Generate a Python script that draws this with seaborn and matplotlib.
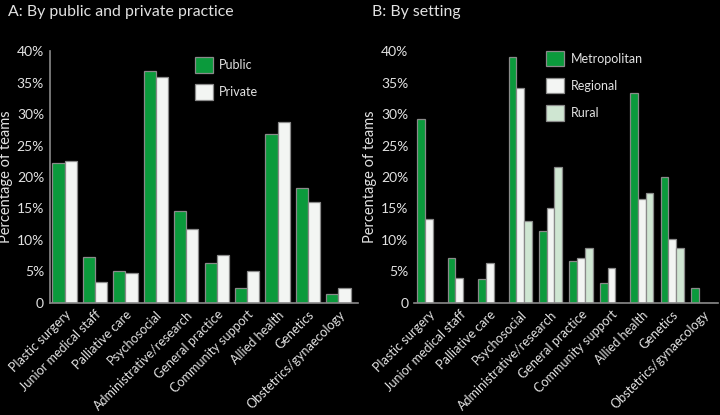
import numpy as np
import pandas as pd
import matplotlib
matplotlib.use("Agg")
import matplotlib.pyplot as plt
import seaborn as sns

# categories shared by both panels
areas = ["Plastic surgery", "Junior medical staff", "Palliative care", "Psychosocial",
         "Administrative/research", "General practice", "Community support",
         "Allied health", "Genetics", "Obstetrics/gynaecology"]

# panel A: public vs private practice (% of teams)
public = [22.2, 7.3, 5.1, 36.9, 14.6, 6.3, 2.4, 26.9, 18.3, 1.5]
private = [22.5, 3.4, 4.7, 35.9, 11.8, 7.6, 5.1, 28.8, 16.0, 2.3]

# panel B: by setting (% of teams)
metropolitan = [29.2, 7.1, 3.8, 39.1, 11.4, 6.6, 3.2, 33.4, 20.0, 2.3]
regional = [13.4, 3.9, 6.3, 34.1, 15.0, 7.1, 5.5, 16.5, 10.2, 0.0]
rural = [0.0, 0.0, 0.0, 13.0, 21.6, 8.7, 0.0, 17.4, 8.7, 0.0]

yticks = [0, 5, 10, 15, 20, 25, 30, 35, 40]
ytick_labels = ["0"] + [f"{v}%" for v in yticks[1:]]

GREEN = "#0b9a3c"
WHITE = "#f3f5f3"
LIGHT = "#cfe6d2"
EDGE = "#8a8a8a"
TXT = "#e2e2e2"

sns.set_theme(style="white")
plt.rcParams["font.family"] = ["Lato", "DejaVu Sans"]
plt.rcParams["text.color"] = TXT
plt.rcParams["axes.labelcolor"] = TXT
plt.rcParams["xtick.color"] = TXT
plt.rcParams["ytick.color"] = TXT

df_a = pd.DataFrame({"area": areas * 2,
                     "pct": public + private,
                     "group": ["Public"] * 10 + ["Private"] * 10})
df_b = pd.DataFrame({"area": areas * 3,
                     "pct": metropolitan + regional + rural,
                     "group": ["Metropolitan"] * 10 + ["Regional"] * 10 + ["Rural"] * 10})

fig = plt.figure(figsize=(7.2, 4.15), dpi=100, facecolor="black")
ax_a = fig.add_axes([0.069, 0.270, 0.428, 0.607])
ax_b = fig.add_axes([0.575, 0.270, 0.422, 0.607])


def style_panel(ax, df, colors, width, xlim, legend_pos, left_spine):
    ax.set_facecolor("black")
    sns.barplot(data=df, x="area", y="pct", hue="group", palette=colors,
                width=width, edgecolor=EDGE, linewidth=0.9, ax=ax,
                errorbar=None, saturation=1)
    ax.set_ylim(0, 40)
    ax.set_xlim(*xlim)
    ax.set_yticks(yticks)
    ax.set_yticklabels(ytick_labels, fontsize=10)
    ax.tick_params(axis="y", direction="in", length=6, width=1, color="#9a9a9a", pad=4)
    ax.tick_params(axis="x", length=0, pad=4)
    ax.set_xticks(range(len(areas)))
    ax.set_xticklabels(areas, rotation=45, ha="right", rotation_mode="anchor", fontsize=9.1)
    ax.set_xlabel("")
    ax.set_ylabel("Percentage of teams", fontsize=10.5, labelpad=3)
    for s in ["top", "right"]:
        ax.spines[s].set_visible(False)
    ax.spines["left"].set_visible(left_spine)
    ax.spines["left"].set_color("#8a8a8a")
    ax.spines["bottom"].set_color("#8a8a8a")
    ax.spines["left"].set_linewidth(1.2)
    ax.spines["bottom"].set_linewidth(1.2)
    leg = ax.legend(loc="upper left", bbox_to_anchor=legend_pos, frameon=False,
                    fontsize=9, handlelength=1.45, handleheight=1.5,
                    labelspacing=0.95, handletextpad=0.5, borderaxespad=0)
    for t in leg.get_texts():
        t.set_color(TXT)


style_panel(ax_a, df_a, [GREEN, WHITE], 0.8, (-0.49, 9.64), (0.454, 0.995), True)
style_panel(ax_b, df_b, [GREEN, WHITE, LIGHT], 0.76, (-0.49, 9.5), (0.418, 1.02), False)

fig.text(0.011, 0.971, "A: By public and private practice", fontsize=11.4, color=TXT, va="center")
fig.text(0.517, 0.971, "B: By setting", fontsize=11.4, color=TXT, va="center")

fig.savefig("out.png", dpi=100, facecolor="black")
